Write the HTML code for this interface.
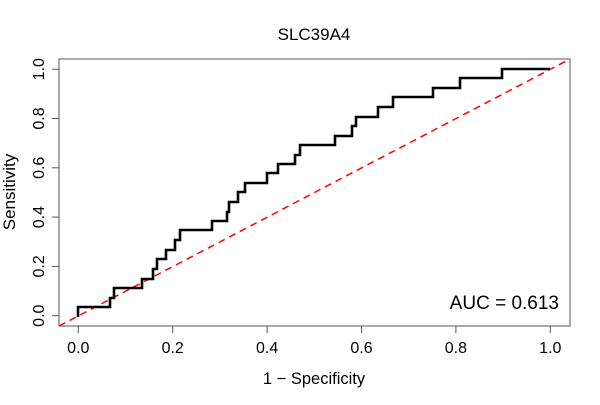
<!DOCTYPE html>
<html><head><style>body{margin:0;background:#fff}</style></head><body>
<svg width="600" height="400" xmlns="http://www.w3.org/2000/svg" font-family="Liberation Sans, Arial, sans-serif">
<rect width="600" height="400" fill="#fff"/>
<text x="314" y="40" font-size="17" text-anchor="middle">SLC39A4</text>
<line x1="59" y1="326" x2="570" y2="59" stroke="#ff0000" stroke-width="1.5" stroke-dasharray="7,5"/>
<polyline fill="none" stroke="#000" stroke-width="2.6" points="78,317 78,307 110,307 110,298 114,298 114,288 142,288 142,279 153,279 153,269 157,269 157,259 166,259 166,250 175,250 175,240 180,240 180,230 212,230 212,221 227,221 227,212 229,212 229,202 238,202 238,192 245,192 245,183 267,183 267,173 278,173 278,164 295,164 295,155 300,155 300,145 335,145 335,136 352,136 352,126 356,126 356,117 378,117 378,107 393,107 393,97 433,97 433,88 460,88 460,78 502,78 502,69 550,69"/>
<rect x="59" y="59" width="511" height="267" fill="none" stroke="#555" stroke-width="1"/>
<g stroke="#555" stroke-width="1">
<line x1="78.3" y1="326" x2="78.3" y2="333"/><line x1="172.7" y1="326" x2="172.7" y2="333"/><line x1="267.1" y1="326" x2="267.1" y2="333"/><line x1="361.5" y1="326" x2="361.5" y2="333"/><line x1="455.9" y1="326" x2="455.9" y2="333"/><line x1="550.3" y1="326" x2="550.3" y2="333"/>
<line x1="52" y1="315.7" x2="59" y2="315.7"/><line x1="52" y1="266.4" x2="59" y2="266.4"/><line x1="52" y1="217.1" x2="59" y2="217.1"/><line x1="52" y1="167.8" x2="59" y2="167.8"/><line x1="52" y1="118.5" x2="59" y2="118.5"/><line x1="52" y1="69.2" x2="59" y2="69.2"/>
</g>
<g font-size="16" text-anchor="middle">
<text x="78.3" y="353">0.0</text><text x="172.7" y="353">0.2</text><text x="267.1" y="353">0.4</text><text x="361.5" y="353">0.6</text><text x="455.9" y="353">0.8</text><text x="550.3" y="353">1.0</text>
<text transform="translate(44,315.7) rotate(-90)">0.0</text>
<text transform="translate(44,266.4) rotate(-90)">0.2</text>
<text transform="translate(44,217.1) rotate(-90)">0.4</text>
<text transform="translate(44,167.8) rotate(-90)">0.6</text>
<text transform="translate(44,118.5) rotate(-90)">0.8</text>
<text transform="translate(44,69.2) rotate(-90)">1.0</text>
<text x="314" y="384" font-size="16.5">1 − Specificity</text>
<text transform="translate(15,192) rotate(-90)" font-size="17">Sensitivity</text>
</g>
<text x="559" y="309" font-size="19" text-anchor="end">AUC = 0.613</text>
</svg>
</body></html>
